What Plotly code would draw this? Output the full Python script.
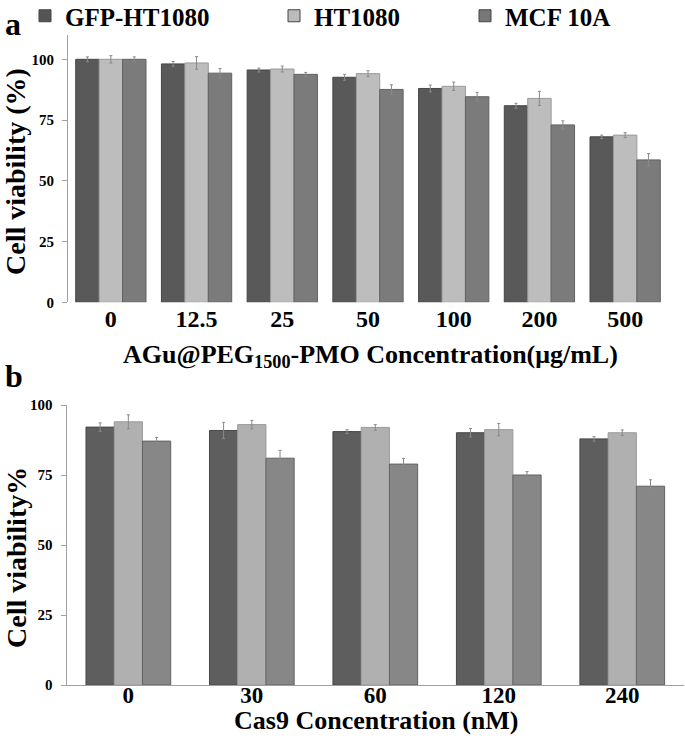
import plotly.graph_objects as go

# ---------------- data ----------------
series_names = ["GFP-HT1080", "HT1080", "MCF 10A"]

conc_a = ["0", "12.5", "25", "50", "100", "200", "500"]
gfp_a = [100.0, 98.1, 95.6, 92.6, 88.0, 80.9, 68.1]
ht_a = [100.0, 98.5, 96.0, 94.1, 88.9, 83.9, 68.8]
mcf_a = [100.0, 94.3, 93.8, 87.6, 84.6, 73.0, 58.6]
gfp_a_err = [1.0, 1.0, 0.8, 1.2, 1.4, 1.0, 0.7]
ht_a_err = [1.5, 2.6, 1.2, 1.2, 1.7, 2.9, 1.0]
mcf_a_err = [1.0, 1.9, 0.8, 1.9, 1.8, 1.7, 2.6]

conc_b = ["0", "30", "60", "120", "240"]
gfp_b = [92.1, 90.9, 90.5, 90.1, 87.9]
ht_b = [94.0, 93.0, 92.0, 91.2, 90.1]
mcf_b = [87.1, 81.0, 78.9, 75.0, 71.0]
gfp_b_err = [1.5, 2.9, 0.7, 1.5, 0.8]
ht_b_err = [2.5, 1.5, 1.0, 2.2, 1.0]
mcf_b_err = [1.3, 2.8, 2.0, 1.2, 2.3]

title_xa = "AGu@PEG<sub>1500</sub>-PMO Concentration(μg/mL)"
title_xb = "Cas9 Concentration (nM)"
title_ya = "Cell viability (%)"
title_yb = "Cell viability%"

# ---------------- styles ----------------
FONT = "Liberation Serif"
W, H = 685, 746
colors_a = ["#595959", "#bdbdbd", "#7b7b7b"]
colors_b = ["#5e5e5e", "#b0b0b0", "#878787"]
edge = ["#474747", "#9a9a9a", "#626262"]
legend_colors = ["#555555", "#bbbbbb", "#777777"]
legend_ids = ["legend", "legend2", "legend3"]

fig = go.Figure()

bw_a = 0.82 / 3
bw_b = 0.686 / 3
for i, (vals, errs) in enumerate(zip([gfp_a, ht_a, mcf_a], [gfp_a_err, ht_a_err, mcf_a_err])):
    fig.add_trace(go.Bar(
        x=conc_a, y=vals, name=series_names[i],
        width=bw_a, offset=-0.41 + i * bw_a,
        marker=dict(color=colors_a[i], line=dict(color=edge[i], width=1)),
        error_y=dict(type="data", array=errs, color="#8a8a8a", thickness=1, width=1.5),
        xaxis="x", yaxis="y", legend=legend_ids[i], showlegend=False,
    ))
    # legend proxy
    fig.add_trace(go.Bar(
        x=[None], y=[None], name=series_names[i],
        marker=dict(color=legend_colors[i], line=dict(color="#444444", width=1)),
        xaxis="x", yaxis="y", legend=legend_ids[i], showlegend=True,
    ))

for i, (vals, errs) in enumerate(zip([gfp_b, ht_b, mcf_b], [gfp_b_err, ht_b_err, mcf_b_err])):
    fig.add_trace(go.Bar(
        x=conc_b, y=vals, name=series_names[i],
        width=bw_b, offset=-0.343 + i * bw_b,
        marker=dict(color=colors_b[i], line=dict(color=edge[i], width=1)),
        error_y=dict(type="data", array=errs, color="#8a8a8a", thickness=1, width=1.5),
        xaxis="x2", yaxis="y2", showlegend=False,
    ))

bold = dict(family=FONT, color="black", weight="bold")

def px_x(v):
    return v / W

def px_y(v):
    return 1 - v / H

legend_common = dict(
    orientation="h", xanchor="left", yanchor="top",
    font=dict(family=FONT, size=25, color="black", weight="bold"),
    bgcolor="rgba(0,0,0,0)", itemwidth=30, tracegroupgap=0,
)

def ann(text, x, y, size, angle=0):
    return dict(text=text, x=px_x(x), y=px_y(y), xref="paper", yref="paper",
                xanchor="center", yanchor="middle", showarrow=False, textangle=angle,
                font=dict(size=size, **bold))

leg_y = 1 + 7 / H

fig.update_layout(
    width=W, height=H,
    margin=dict(l=0, r=0, t=0, b=0, autoexpand=False),
    paper_bgcolor="white", plot_bgcolor="white",
    barmode="overlay",
    showlegend=True,
    legend=dict(x=px_x(25), y=leg_y, **legend_common),
    legend2=dict(x=px_x(274), y=leg_y, **legend_common),
    legend3=dict(x=px_x(465), y=leg_y, **legend_common),
    xaxis=dict(
        domain=[px_x(68), px_x(668)], anchor="y", type="category",
        range=[-0.5, 6.5], showline=False, showgrid=False, zeroline=False,
        ticks="", tickfont=dict(size=24, **bold), ticklabelstandoff=0,
        automargin=False,
    ),
    yaxis=dict(
        domain=[px_y(302.3), px_y(35)], anchor="x", range=[0, 110],
        tickvals=[0, 25, 50, 75, 100], showline=True, linecolor="#a0a0a0", linewidth=1,
        ticks="outside", ticklen=5, tickcolor="#a0a0a0", showgrid=False, zeroline=False,
        tickfont=dict(size=15, **bold), ticklabelstandoff=5,
        automargin=False,
    ),
    xaxis2=dict(
        domain=[px_x(66.6), px_x(684)], anchor="y2", type="category",
        range=[-0.5, 4.5], showline=True, linecolor="#a0a0a0", linewidth=1,
        showgrid=False, zeroline=False,
        ticks="", tickfont=dict(size=23, **bold), ticklabelstandoff=-11,
        automargin=False,
    ),
    yaxis2=dict(
        domain=[px_y(685), px_y(405)], anchor="x2", range=[0, 100],
        tickvals=[0, 25, 50, 75, 100], showline=True, linecolor="#a0a0a0", linewidth=1,
        ticks="outside", ticklen=5, tickcolor="#a0a0a0", showgrid=False, zeroline=False,
        tickfont=dict(size=15, **bold), ticklabelstandoff=5,
        automargin=False,
    ),
    annotations=[
        dict(text="a", x=px_x(3), y=px_y(24), xref="paper", yref="paper",
             xanchor="left", yanchor="middle", showarrow=False,
             font=dict(size=32, **bold)),
        dict(text="b", x=px_x(3), y=px_y(376), xref="paper", yref="paper",
             xanchor="left", yanchor="middle", showarrow=False,
             font=dict(size=32, **bold)),
        ann(title_xa, 370, 356, 26),
        ann(title_xb, 376, 720, 26),
        ann(title_ya, 16, 172, 28, -90),
        ann(title_yb, 16, 558, 28, -90),
    ],
)

fig.write_html(
    "out.html",
    config={"displayModeBar": False},
    post_script="document.body.style.margin='0';document.body.style.overflow='hidden';",
)
